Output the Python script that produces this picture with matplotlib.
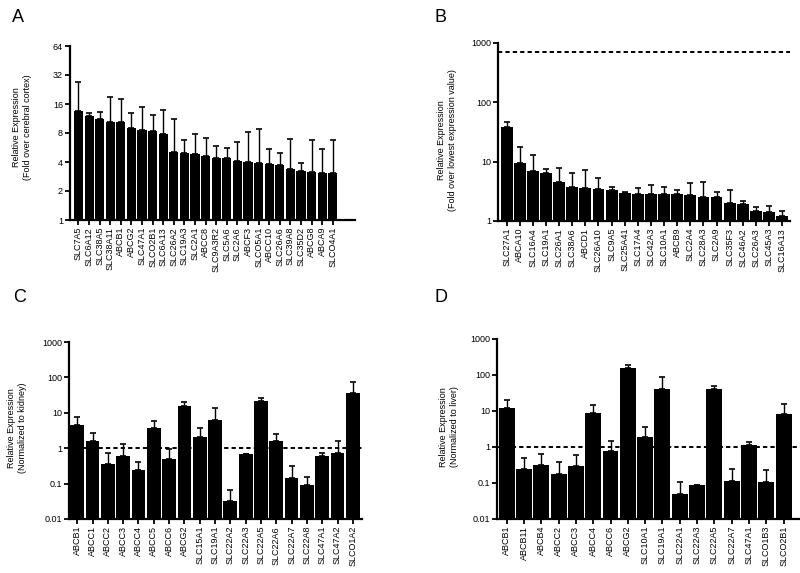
import matplotlib
matplotlib.use("Agg")
import matplotlib.pyplot as plt
from matplotlib.ticker import FixedLocator, FixedFormatter, NullLocator
import numpy as np

plt.rcParams['font.family'] = ['Liberation Sans', 'DejaVu Sans']

# ---- Panel A ----
a_genes = ["SLC7A5", "SLC6A12", "SLC38A5", "SLC38A11", "ABCB1", "ABCG2", "SLC47A1",
           "SLCO2B1", "SLC6A13", "SLC26A2", "SLC19A3", "SLC2A1", "ABCC8", "SLC9A3R2",
           "SLC5A6", "SLC2A6", "ABCF3", "SLCO5A1", "ABCC10", "SLC26A6", "SLC39A8",
           "SLC35D2", "ABCG8", "ABCA9", "SLCO4A1"]
a_vals = [13.5, 12.0, 11.3, 10.5, 10.5, 9.0, 8.5, 8.4, 7.9, 5.1, 5.0, 4.8, 4.6, 4.4,
          4.4, 4.1, 4.0, 3.95, 3.78, 3.7, 3.35, 3.2, 3.15, 3.1, 3.1]
a_errtop = [27.3, 12.8, 13.3, 19.0, 18.0, 13.0, 15.0, 12.3, 14.0, 11.1, 6.7, 7.9, 7.1,
            5.8, 5.6, 6.4, 8.1, 8.7, 5.5, 5.0, 7.0, 3.9, 6.8, 5.4, 6.8]

# ---- Panel B ----
b_genes = ["SLC27A1", "ABCA10", "SLC16A4", "SLC19A1", "SLC26A1", "SLC38A6", "ABCD1",
           "SLC26A10", "SLC9A5", "SLC25A41", "SLC17A4", "SLC42A3", "SLC10A1", "ABCB9",
           "SLC2A4", "SLC28A3", "SLC2A9", "SLC35F3", "SLC46A2", "SLC26A3", "SLC45A3",
           "SLC16A13"]
b_vals = [38.7, 9.4, 7.0, 6.5, 4.6, 3.7, 3.6, 3.4, 3.3, 3.0, 2.8, 2.8, 2.8, 2.8,
          2.75, 2.55, 2.5, 2.05, 1.97, 1.48, 1.42, 1.23]
b_errtop = [47, 18, 13.1, 7.4, 7.8, 6.5, 7.2, 5.3, 3.7, 3.1, 3.6, 4.1, 3.8, 3.3,
            4.4, 4.6, 3.1, 3.3, 2.2, 1.73, 1.8, 1.45]
b_ref = 710

# ---- Panel C ----
c_genes = ["ABCB1", "ABCC1", "ABCC2", "ABCC3", "ABCC4", "ABCC5", "ABCC6", "ABCG2",
           "SLC15A1", "SLC19A1", "SLC22A2", "SLC22A3", "SLC22A5", "SLC22A6", "SLC22A7",
           "SLC22A8", "SLC47A1", "SLC47A2", "SLCO1A2"]
c_vals = [4.4, 1.58, 0.35, 0.62, 0.235, 3.76, 0.51, 16, 2.1, 6.3, 0.033, 0.69, 21,
          1.62, 0.146, 0.089, 0.6, 0.74, 36.5]
c_errtop = [7.4, 2.7, 0.74, 1.3, 0.42, 6.0, 0.96, 20, 3.7, 14, 0.064, 0.70, 26,
            2.6, 0.31, 0.15, 0.74, 1.6, 74]

# ---- Panel D ----
d_genes = ["ABCB1", "ABCB11", "ABCB4", "ABCC2", "ABCC3", "ABCC4", "ABCC6", "ABCG2",
           "SLC10A1", "SLC19A1", "SLC22A1", "SLC22A3", "SLC22A5", "SLC22A7", "SLC47A1",
           "SLCO1B3", "SLCO2B1"]
d_vals = [12.4, 0.24, 0.32, 0.18, 0.29, 8.6, 0.79, 153, 1.9, 42, 0.051, 0.088, 41,
          0.114, 1.11, 0.107, 8.1]
d_errtop = [20, 0.5, 0.65, 0.38, 0.61, 15, 1.5, 193, 3.7, 86, 0.107, 0.09, 50,
            0.24, 1.4, 0.23, 16]

FS = 6.5
fig = plt.figure(figsize=(8.0, 5.73), dpi=100)


def panel(rect, genes, vals, errtop, ylim, yticks, ylabels, xlim, ylabel,
          ylabel_pos, letter, letter_pos, ref=None, ref_from=None, width=0.88):
    ax = fig.add_axes(rect)
    x = np.arange(len(genes))
    vals = np.array(vals)
    err = np.array(errtop) - vals
    if ref is not None:
        x0 = xlim[0] if ref_from is None else ref_from
        ax.plot([x0, xlim[1]], [ref, ref], color='black', lw=1.4,
                ls=(0, (2.2, 1.6)), zorder=1, clip_on=False)
    ax.bar(x, vals, width=width, color='black', zorder=2, bottom=0)
    ax.errorbar(x, vals, yerr=[np.zeros_like(err), err], fmt='none',
                ecolor='black', elinewidth=1.0, capsize=2.2, capthick=1.2, zorder=3)
    ax.set_yscale('log')
    ax.set_ylim(*ylim)
    ax.set_xlim(*xlim)
    ax.yaxis.set_major_locator(FixedLocator(yticks))
    ax.yaxis.set_major_formatter(FixedFormatter(ylabels))
    ax.yaxis.set_minor_locator(NullLocator())
    ax.set_xticks(x)
    ax.set_xticklabels(genes, rotation=90, fontsize=FS)
    for lab in ax.get_yticklabels():
        lab.set_fontsize(FS)
    ax.tick_params(axis='both', direction='out', length=3.5, width=1.3, pad=1.5)
    for s in ['top', 'right']:
        ax.spines[s].set_visible(False)
    for s in ['left', 'bottom']:
        ax.spines[s].set_linewidth(1.6)
    fig.text(ylabel_pos[0], ylabel_pos[1], ylabel, rotation=90, ha='center',
             va='center', fontsize=FS, multialignment='center')
    fig.text(letter_pos[0], letter_pos[1], letter, fontsize=13, ha='left', va='top')
    return ax


W, H = 800.0, 573.0


def r(l, t, rgt, b):
    return [l / W, 1 - b / H, (rgt - l) / W, (b - t) / H]


panel(r(70, 46, 355, 220), a_genes, a_vals, a_errtop, (1, 64),
      [1, 2, 4, 8, 16, 32, 64], ['1', '2', '4', '8', '16', '32', '64'],
      (-0.8, 26.1), "Relative Expression\n(Fold over cerebral cortex)",
      (22 / W, 1 - 127 / H), "A", (12 / W, 1 - 9 / H), width=0.86)

panel(r(498, 43, 790, 221), b_genes, b_vals, b_errtop, (1, 1000),
      [1, 10, 100, 1000], ['1', '10', '100', '1000'],
      (-0.66, 21.6), "Relative Expression\n(Fold over lowest expression value)",
      (447 / W, 1 - 140 / H), "B", (434 / W, 1 - 9 / H), ref=b_ref, width=0.9)

panel(r(69, 342, 362, 519), c_genes, c_vals, c_errtop, (0.01, 1000),
      [0.01, 0.1, 1, 10, 100, 1000], ['0.01', '0.1', '1', '10', '100', '1000'],
      (-0.54, 18.6), "Relative Expression\n(Normalized to kidney)",
      (17 / W, 1 - 428 / H), "C", (13 / W, 1 - 289 / H), ref=1, width=0.9)

panel(r(497, 339, 800, 519), d_genes, d_vals, d_errtop, (0.01, 1000),
      [0.01, 0.1, 1, 10, 100, 1000], ['0.01', '0.1', '1', '10', '100', '1000'],
      (-0.56, 16.95), "Relative Expression\n(Normalized to liver)",
      (449 / W, 1 - 427 / H), "D", (434 / W, 1 - 289 / H), ref=1, width=0.92)

fig.savefig("out.png", dpi=100)
